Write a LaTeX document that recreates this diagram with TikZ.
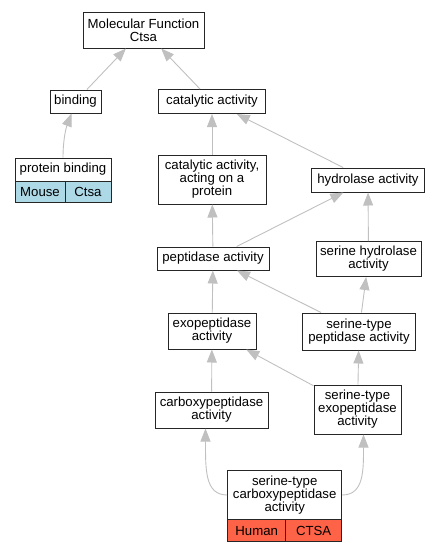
\documentclass[tikz,border=0pt]{standalone}
\usepackage{fontspec}
\setmainfont{Liberation Sans}
\usepackage{tikz}
\usetikzlibrary{arrows.meta}
\usepackage{xcolor}

\definecolor{edgegrey}{RGB}{192,192,192}
\definecolor{mouseblue}{RGB}{173,216,230}
\definecolor{humanred}{RGB}{255,99,71}

\tikzset{
  term/.style={draw=black!85, line width=1pt, fill=white, inner sep=0pt, align=center,
    font=\fontsize{13.2}{13}\selectfont},
  cell/.style={term, anchor=north},
  isa/.style={draw=edgegrey, line width=0.9pt, -{Triangle[length=13pt,width=10pt]}}
}

\begin{document}
\begin{tikzpicture}[x=1pt,y=1pt,yscale=-1,xscale=1]
\useasboundingbox (0,0) rectangle (440,552); %set diagram to the 440 x 552 page

% Term Nodes
\node (mf) at (143.5,30) [term, minimum width=121, minimum height=36] {Molecular Function\\Ctsa};
\node (bind) at (75.5,101.5) [term, minimum width=51, minimum height=23] {binding};
\node (cat) at (212,101.5) [term, minimum width=107, minimum height=24] {catalytic activity};
\node (pb) at (63,169.5) [term, minimum width=96, minimum height=23] {protein binding};
\node (cap) at (212,179.5) [term, minimum width=108, minimum height=49] {catalytic activity,\\acting on a\\protein};
\node (hyd) at (368,180) [term, minimum width=113, minimum height=24] {hydrolase activity};
\node (pep) at (213,258.5) [term, minimum width=112, minimum height=23] {peptidase activity};
\node (shyd) at (368.5,259) [term, minimum width=105, minimum height=35] {serine hydrolase\\activity};
\node (exo) at (212,331) [term, minimum width=88, minimum height=36] {exopeptidase\\activity};
\node (stp) at (359,331.5) [term, minimum width=113, minimum height=37] {serine-type\\peptidase activity};
\node (carb) at (211.5,410) [term, minimum width=113, minimum height=36] {carboxypeptidase\\activity};
\node (stexo) at (357.5,409.5) [term, minimum width=87, minimum height=49] {serine-type\\exopeptidase\\activity};
\node (stc) at (284.7,495) [term, minimum width=114, minimum height=48.6] {serine-type\\carboxypeptidase\\activity};

% Species Cells
\node (pbMouse) at (40,181) [cell, fill=mouseblue, minimum width=50, minimum height=21] {Mouse};
\node (pbCtsa) at (88,181) [cell, fill=mouseblue, minimum width=46, minimum height=21] {Ctsa};
\node (stcHuman) at (256.7,519.3) [cell, fill=humanred, minimum width=58, minimum height=22] {Human};
\node (stcCTSA) at (313.7,519.3) [cell, fill=humanred, minimum width=56, minimum height=22] {CTSA};

% Is-a Edges
\draw [isa] (bind) -- (mf);
\draw [isa] (cat) -- (mf);
\draw [isa] (pb.north) .. controls (63,140) and (66,128) .. ([xshift=-4pt]bind.south);
\draw [isa] (cap) -- (cat);
\draw [isa] (hyd) -- (cat);
\draw [isa] (pep) -- (cap);
\draw [isa] (pep) -- (hyd);
\draw [isa] (shyd) -- (hyd);
\draw [isa] (exo) -- (pep);
\draw [isa] (stp) -- (pep);
\draw [isa] (stp) -- (shyd);
\draw [isa] (carb) -- (exo);
\draw [isa] (stexo) -- (exo);
\draw [isa] (stexo) -- (stp);
\draw [isa] (stc.west) .. controls (205,495) and (205.5,470) .. ([xshift=-6pt]carb.south);
\draw [isa] (stc.east) .. controls (364,495) and (363.5,470) .. ([xshift=6pt]stexo.south);

\end{tikzpicture}
\end{document}
